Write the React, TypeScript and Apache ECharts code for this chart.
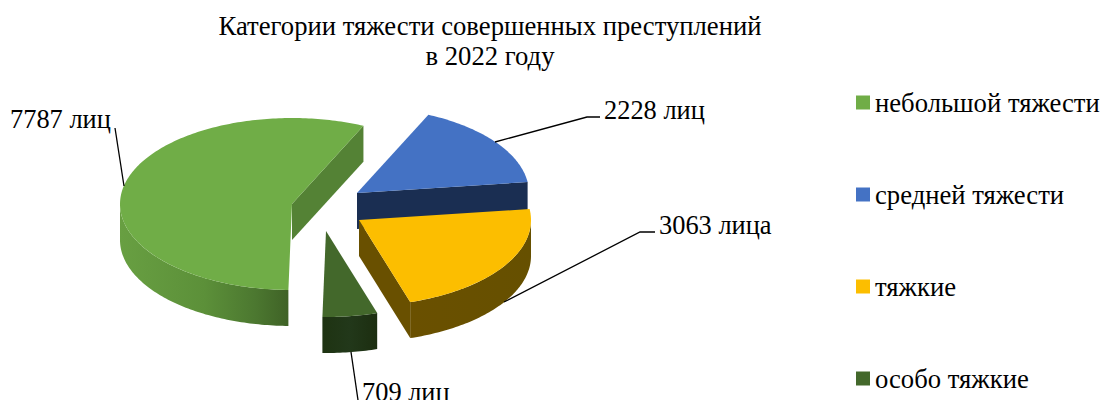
import React, { useEffect, useRef } from "react";
import * as echarts from "echarts";

const categories = ["небольшой тяжести", "средней тяжести", "тяжкие", "особо тяжкие"];
const values = [7787, 2228, 3063, 709];
const valueLabels = ["7787 лиц", "2228 лиц", "3063 лица", "709 лиц"];
const titleLines = ["Категории тяжести совершенных преступлений", "в 2022 году"];

const FONT = '"Liberation Serif", "Times New Roman", serif';
const START_ANGLE = 181.2;
const RX = 172;
const RY = 86;
const DEPTH = 36;

// Layout of each exploded slice: apex position, colours, leader line and label.
const apexes = [[292, 204], [357, 193], [359, 220], [326, 231]];
const topColors = ["#70AD47", "#4472C4", "#FCBE00", "#43682B"];
const faceColors = ["#548235", "#1A2E52", "#695000", "#1E3212"];
const wallStops = [
  [[0, "#689F42"], [0.5, "#5C9039"], [0.8, "#4C7830"], [1, "#3F6226"]],
  [[0, "#2A4578"], [1, "#2A4578"]],
  [[0, "#6A5000"], [1, "#665000"]],
  [[0, "#1E3312"], [0.5, "#22381A"], [1, "#1C2E10"]],
];
const leaders = [
  [[124, 186], [115, 128]],
  [[495, 142], [587, 117], [600, 117]],
  [[504, 302], [640, 232], [655, 232]],
  [[351, 352], [358, 400]],
];
const labelAnchors = [[10, 119], [604, 110], [659, 225], [362, 392]];

const total = values.reduce((a, b) => a + b, 0);
const startAngles = values.map((_, i) =>
  (START_ANGLE + (values.slice(0, i).reduce((a, b) => a + b, 0) / total) * 360) % 360
);

function pt(c: number[], deg: number, dy = 0) {
  const r = (deg * Math.PI) / 180;
  return [c[0] + RX * Math.sin(r), c[1] - RY * Math.cos(r) + dy];
}
function arc(c: number[], a0: number, a1: number, dy = 0) {
  const n = Math.max(2, Math.ceil(Math.abs(a1 - a0)));
  const out: number[][] = [];
  for (let i = 0; i <= n; i++) out.push(pt(c, a0 + ((a1 - a0) * i) / n, dy));
  return out;
}

function makeRenderItem(idx: number) {
  return (_params: any, api: any) => {
    const sweep = (api.value(0) / total) * 360;
    const c = apexes[idx];
    const a0 = startAngles[idx];
    const a1 = a0 + sweep;
    const children: any[] = [];

    // cut face at the clockwise end of the slice
    if (Math.sin((a1 * Math.PI) / 180) > 0.1) {
      const e = pt(c, a1);
      children.push({
        type: "polygon",
        shape: { points: [c, e, [e[0], e[1] + DEPTH], [c[0], c[1] + DEPTH]] },
        style: { fill: faceColors[idx] },
      });
    }
    // outer wall, the part that faces the viewer (90..270 degrees)
    const v0 = Math.max(a0, 90);
    const v1 = Math.min(a1, 270);
    if (v1 > v0) {
      children.push({
        type: "polygon",
        shape: { points: [...arc(c, v0, v1), ...arc(c, v1, v0, DEPTH)] },
        style: {
          fill: {
            type: "linear",
            x: 0, y: 0, x2: 1, y2: 0,
            colorStops: wallStops[idx].map(([offset, color]) => ({ offset, color })),
          },
        },
      });
    }
    // top surface
    children.push({
      type: "polygon",
      shape: { points: [c, ...arc(c, a0, a1)] },
      style: { fill: topColors[idx] },
    });
    // leader line and label
    children.push({
      type: "polyline",
      shape: { points: leaders[idx] },
      style: { stroke: "#000", lineWidth: 1.3, fill: "none" },
    });
    children.push({
      type: "text",
      style: {
        text: valueLabels[idx],
        x: labelAnchors[idx][0],
        y: labelAnchors[idx][1],
        font: `26.4px ${FONT}`,
        fill: "#000",
        textAlign: "left",
        textVerticalAlign: "middle",
      },
    });
    return { type: "group", children };
  };
}

export default function App() {
  const ref = useRef<HTMLDivElement>(null);
  useEffect(() => {
    document.body.style.margin = "0";
    const chart = echarts.init(ref.current!, null, { renderer: "svg" });
    chart.setOption({
      animation: false,
      backgroundColor: "#fff",
      title: {
        text: titleLines.join("\n"),
        left: 485,
        top: 6,
        textAlign: "center",
        textStyle: {
          fontFamily: FONT,
          fontSize: 26.67,
          fontWeight: "normal",
          color: "#000",
          lineHeight: 30,
        },
      },
      legend: {
        orient: "vertical",
        left: 851,
        top: 76,
        icon: "rect",
        itemWidth: 14,
        itemHeight: 14,
        itemGap: 57,
        selectedMode: false,
        data: categories,
        formatter: (name: string) => `{a|${name}}`,
        textStyle: {
          fontFamily: FONT,
          fontSize: 26.67,
          color: "#000",
          rich: {
            a: {
              fontFamily: FONT,
              fontSize: 26.67,
              color: "#000",
              lineHeight: 27,
              height: 27,
              padding: [8, 0, 0, 0],
              verticalAlign: "bottom",
            },
          },
        },
      },
      series: categories.map((name, i) => ({
        type: "custom",
        name,
        coordinateSystem: "none",
        silent: true,
        itemStyle: { color: topColors[i] },
        data: [[values[i]]],
        renderItem: makeRenderItem(i),
      })),
    });
    return () => chart.dispose();
  }, []);
  return (
    <div
      ref={ref}
      style={{ position: "fixed", left: 0, top: 0, width: 1101, height: 400 }}
    />
  );
}
